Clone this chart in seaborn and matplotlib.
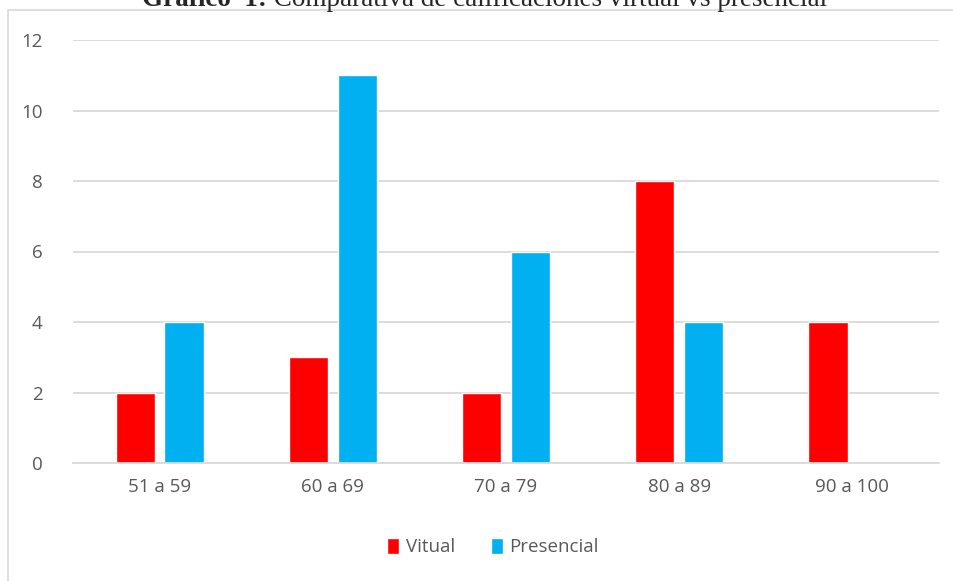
import matplotlib
matplotlib.use("Agg")
import matplotlib.pyplot as plt
from matplotlib.patches import Rectangle
import seaborn as sns
import pandas as pd

categories = ["51 a 59", "60 a 69", "70 a 79", "80 a 89", "90 a 100"]
vitual = [2, 3, 2, 8, 4]
presencial = [4, 11, 6, 4, 0]
series_names = ["Vitual", "Presencial"]
colors = ["#FF0000", "#00B0F0"]

df = pd.DataFrame({
    "rango": categories * 2,
    "valor": vitual + presencial,
    "serie": [series_names[0]] * len(categories) + [series_names[1]] * len(categories),
})

sns.set_theme(style="white")
plt.rcParams["font.family"] = ["Open Sans", "DejaVu Sans"]

W, H = 954, 581
fig = plt.figure(figsize=(W / 100, H / 100), dpi=100)
fig.patch.set_facecolor("white")

# chart frame
fig.patches.append(Rectangle((8 / W, -0.1), 1.2, 1 - 10 / H + 0.1, transform=fig.transFigure,
                             fill=False, edgecolor="#D9D9D9", linewidth=1.2))

ax = fig.add_axes([73 / W, (H - 463) / H, (939 - 73) / W, (463 - 40) / H])
sns.barplot(data=df, x="rango", y="valor", hue="serie", palette=colors,
            width=0.565, gap=0.2, ax=ax, saturation=1, legend=True)

ax.set_ylim(0, 12)
ax.set_yticks(range(0, 13, 2))
ax.set_xlim(-0.5, len(categories) - 0.5)
ax.yaxis.grid(True, color="#D9D9D9", linewidth=1.3)
ax.set_axisbelow(True)
for s in ["top", "right", "left"]:
    ax.spines[s].set_visible(False)
ax.spines["bottom"].set_color("#D9D9D9")
ax.spines["bottom"].set_linewidth(1.3)
ax.set_xlabel("")
ax.set_ylabel("")
ax.tick_params(axis="both", length=0, labelsize=13.5, colors="#595959")
ax.tick_params(axis="y", pad=22)
ax.tick_params(axis="x", pad=11)

handles, labels = ax.get_legend_handles_labels()
ax.legend(handles, labels, loc="center", bbox_to_anchor=(493 / W, (H - 547) / H),
          bbox_transform=fig.transFigure, ncol=2, frameon=False, fontsize=13.5,
          handlelength=0.65, handleheight=1.0, handletextpad=0.35, columnspacing=1.9,
          labelcolor="#595959")

# title, partly above the frame
renderer = fig.canvas.get_renderer()
t1 = fig.text(0, 0, "Gráfico  1:", fontsize=19.5, fontweight="bold", family="Liberation Serif")
t2 = fig.text(0, 0, " Comparativa de calificaciones virtual vs presencial", fontsize=19.5,
              family="Liberation Serif")
w1 = t1.get_window_extent(renderer).width
w2 = t2.get_window_extent(renderer).width
x0 = 485 - (w1 + w2) / 2
yb = (H - 6) / H
t1.set_position((x0 / W, yb))
t2.set_position(((x0 + w1) / W, yb))
t1.set_va("baseline")
t2.set_va("baseline")

fig.savefig("out.png", dpi=100, facecolor="white")
